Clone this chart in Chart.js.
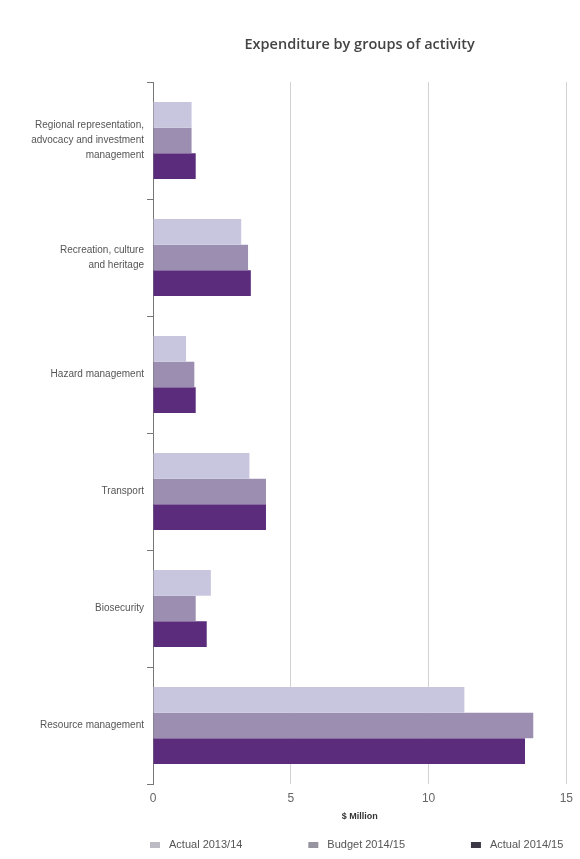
<!DOCTYPE html>
<html>
<head>
<meta charset="utf-8">
<title>Expenditure by groups of activity</title>
<script src="https://cdn.jsdelivr.net/npm/chart.js@4.4.1/dist/chart.umd.min.js"></script>
<style>
  html, body { margin: 0; padding: 0; background: #fff; }
  #wrap { width: 580px; height: 859px; }
</style>
</head>
<body>
<div id="wrap"><canvas id="activityChart" width="580" height="859"></canvas></div>
<script>
const categories = [
  ['Regional representation,', 'advocacy and investment', 'management'],
  ['Recreation, culture', 'and heritage'],
  'Hazard management',
  'Transport',
  'Biosecurity',
  'Resource management'
];
const actual1314 = [1.4, 3.2, 1.2, 3.5, 2.1, 11.3];
const budget1415 = [1.4, 3.45, 1.5, 4.1, 1.55, 13.8];
const actual1415 = [1.55, 3.55, 1.55, 4.1, 1.95, 13.5];
const seriesNames = ['Actual 2013/14', 'Budget 2014/15', 'Actual 2014/15'];
const xTicks = [0, 5, 10, 15];

const barColors = ['#c8c6de', '#9c8eb0', '#5b2c7c'];
const legendColors = ['#bcbbc4', '#98949f', '#3d3846'];
const chartTitle = 'Expenditure by groups of activity';

// title centred over the plot area rather than the canvas
const titlePlugin = {
  id: 'areaTitle',
  afterDraw(chart) {
    const { ctx, chartArea } = chart;
    ctx.save();
    ctx.font = '600 14.5px "Open Sans", sans-serif';
    ctx.fillStyle = '#444';
    ctx.textAlign = 'center';
    ctx.textBaseline = 'middle';
    ctx.fillText(chartTitle, (chartArea.left + chartArea.right) / 2, 45);
    ctx.restore();
  }
};

// legend spread across the plot width
const spreadLegend = {
  id: 'spreadLegend',
  afterDraw(chart) {
    const { ctx, chartArea } = chart;
    ctx.save();
    ctx.font = '11px "Liberation Sans", Arial, sans-serif';
    ctx.textBaseline = 'middle';
    const markW = 10, markH = 6, gap = 9;
    const widths = seriesNames.map(n => markW + gap + ctx.measureText(n).width);
    const total = widths.reduce((a, b) => a + b, 0);
    const space = (chartArea.right - 3 - (chartArea.left - 3) - total) / (seriesNames.length - 1);
    let x = chartArea.left - 3;
    const y = 845;
    seriesNames.forEach((name, i) => {
      ctx.fillStyle = legendColors[i];
      ctx.fillRect(x, y - markH / 2, markW, markH);
      ctx.fillStyle = '#555';
      ctx.fillText(name, x + markW + gap, y);
      x += widths[i] + space;
    });
    ctx.restore();
  }
};

const ctx = document.getElementById('activityChart').getContext('2d');
const activityChart = new Chart(ctx, {
  type: 'bar',
  data: {
    labels: categories,
    datasets: [
      { label: seriesNames[0], data: actual1314, backgroundColor: barColors[0] },
      { label: seriesNames[1], data: budget1415, backgroundColor: barColors[1] },
      { label: seriesNames[2], data: actual1415, backgroundColor: barColors[2] }
    ]
  },
  options: {
    indexAxis: 'y',
    responsive: false,
    animation: false,
    layout: { padding: { top: 82, right: 10, bottom: 40, left: 0 } },
    categoryPercentage: 0.66,
    barPercentage: 1.0,
    plugins: {
      legend: { display: false },
      title: { display: false },
      tooltip: { enabled: false }
    },
    scales: {
      x: {
        min: 0,
        max: 15,
        afterBuildTicks: scale => { scale.ticks = xTicks.map(v => ({ value: v })); },
        grid: { color: '#d2d2d2', lineWidth: 1, drawTicks: false },
        border: { display: false },
        ticks: {
          padding: 7,
          color: '#666',
          font: { family: '"Liberation Sans", Arial, sans-serif', size: 12 }
        },
        title: {
          display: true,
          text: '$ Million',
          color: '#333',
          padding: { top: 3, bottom: -3 },
          font: { family: '"Liberation Sans", Arial, sans-serif', size: 9, weight: 'bold' }
        },
        afterFit: scale => { scale.height = 35; }
      },
      y: {
        grid: { drawOnChartArea: false, drawTicks: true, tickLength: 6, color: '#777', offset: true },
        border: { display: true, color: '#777', width: 1 },
        ticks: {
          padding: 3,
          color: '#555',
          font: { family: '"Liberation Sans", Arial, sans-serif', size: 10, lineHeight: 1.5 }
        },
        afterFit: scale => { scale.width = 153; }
      }
    }
  },
  plugins: [titlePlugin, spreadLegend]
});
</script>
</body>
</html>
